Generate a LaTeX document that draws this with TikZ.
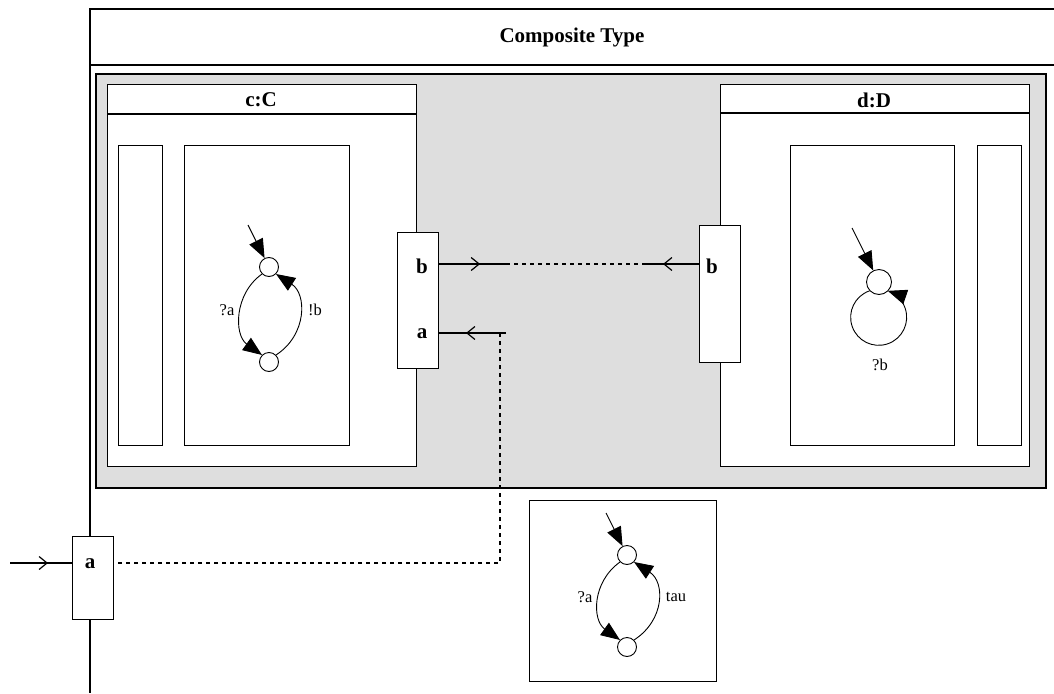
\documentclass[tikz,border=0pt]{standalone}
\usepackage{fontspec}
\setmainfont{Liberation Serif}
\usetikzlibrary{arrows.meta,decorations.markings,calc}
\definecolor{bggray}{HTML}{DEDEDE}
\tikzset{
  frameline/.style={line width=1.5pt},
  box/.style={draw, fill=white, line width=1.1pt, inner sep=0pt, anchor=north west},
  graybox/.style={draw, fill=bggray, line width=1.5pt, inner sep=0pt, anchor=north west},
  boldlbl/.style={font=\bfseries\fontsize{21}{24}\selectfont, inner sep=0pt},
  smalllbl/.style={font=\fontsize{16.5}{19}\selectfont, inner sep=0pt},
  state/.style={circle, draw, fill=white, line width=0.9pt, inner sep=0pt, minimum size=19pt},
  trans/.style={line width=0.9pt, -{Triangle[length=19pt,width=15pt]}},
  dashconn/.style={line width=1.2pt, dash pattern=on 4pt off 4pt},
  midbarb/.style={line width=1.2pt, decoration={markings, mark=at position #1 with {\arrow{Straight Barb[length=8pt,width=13pt,line width=1.2pt]}}}, postaction=decorate}
}
\begin{document}
\begin{tikzpicture}[x=1pt,y=-1pt]
\useasboundingbox (0,0) rectangle (1054,693);
% outer frame
\draw[frameline] (1054,9) -| (90,693);
\draw[frameline] (90,65) -- (1054,65);
\node[font=\bfseries\fontsize{21}{24}\selectfont] (title) at (572,37) {Composite Type};
% gray area
\node[graybox, minimum width=950pt, minimum height=414pt] (gray) at (95,73) {};
% c:C
\node[box, minimum width=309pt, minimum height=382pt] (cC) at (107,84) {};
\draw[line width=1.1pt] (107,114) -- (416,114);
\node[boldlbl] (cCt) at (261,100) {c:C};
\node[box, minimum width=44pt, minimum height=300pt] (cL) at (118,145) {};
\node[box, minimum width=165pt, minimum height=300pt] (cR) at (184,145) {};
% d:D
\node[box, minimum width=309pt, minimum height=382pt] (dD) at (720,84) {};
\draw[line width=1.1pt] (720,113) -- (1029,113);
\node[boldlbl] (dDt) at (874,100) {d:D};
\node[box, minimum width=164pt, minimum height=300pt] (dL) at (790,145) {};
\node[box, minimum width=44pt, minimum height=300pt] (dR) at (977,145) {};
% ports
\node[box, minimum width=41pt, minimum height=136pt] (pc) at (397,232) {};
\node[boldlbl] (pcb) at (422,266) {b};
\node[boldlbl] (pca) at (422,334) {a};
\node[box, minimum width=41pt, minimum height=137pt] (pd) at (699,225) {};
\node[boldlbl] (pdb) at (712,266) {b};
\node[box, minimum width=41pt, minimum height=83pt] (pa) at (72,536) {};
\node[boldlbl] (paa) at (90,564) {a};
% bottom box
\node[box, minimum width=187pt, minimum height=181pt] (bot) at (529,500) {};
% connectors
\coordinate (b1) at (506,264);
\coordinate (b2) at (643,264);
\coordinate (a1) at (506,333);
\coordinate (a2) at (500,333);
\coordinate (in) at (10,563);
\draw[midbarb=41pt] (pc.east |- b1) -- (b1);
\draw[dashconn] (b1) -- (b2);
\draw[midbarb=36pt] (pd.west |- b2) -- (b2);
\draw[midbarb=40pt] (a1) -- (pc.east |- a1);
\draw[dashconn] (a2) -- (a2 |- in) -- (pa.east |- in);
\draw[midbarb=38pt] (in) -- (pa.west |- in);
% automaton in c
\node[state] (ct) at (269,267) {};
\node[state] (cb) at (269,362) {};
\coordinate (ci) at (248,225);
\draw[trans] (ci) -- (ct);
\draw[trans] (ct.225) .. controls +(-28,20) and +(-28,-20) .. (cb.135);
\draw[trans] (cb.45) .. controls +(31,-20) and +(31,20) .. (ct.-45);
\node[smalllbl] (cla) at (227,310) {?a};
\node[smalllbl] (clb) at (315,310) {!b};
% automaton in d
\node[state, minimum size=25pt] (dq) at (879,282) {};
\coordinate (di) at (852,228);
\draw[trans] (di) -- (dq);
\draw[trans] (dq.223) arc[start angle=251, end angle=-71, radius=28];
\node[smalllbl] (dlb) at (880,365) {?b};
% automaton in bottom box
\node[state] (et) at (627,555) {};
\node[state] (eb) at (627,647) {};
\coordinate (ei) at (606,513);
\draw[trans] (ei) -- (et);
\draw[trans] (et.225) .. controls +(-28,20) and +(-28,-20) .. (eb.135);
\draw[trans] (eb.45) .. controls +(31,-20) and +(31,20) .. (et.-45);
\node[smalllbl] (ela) at (585,597) {?a};
\node[smalllbl] (elb) at (676,597) {tau};
\end{tikzpicture}
\end{document}
